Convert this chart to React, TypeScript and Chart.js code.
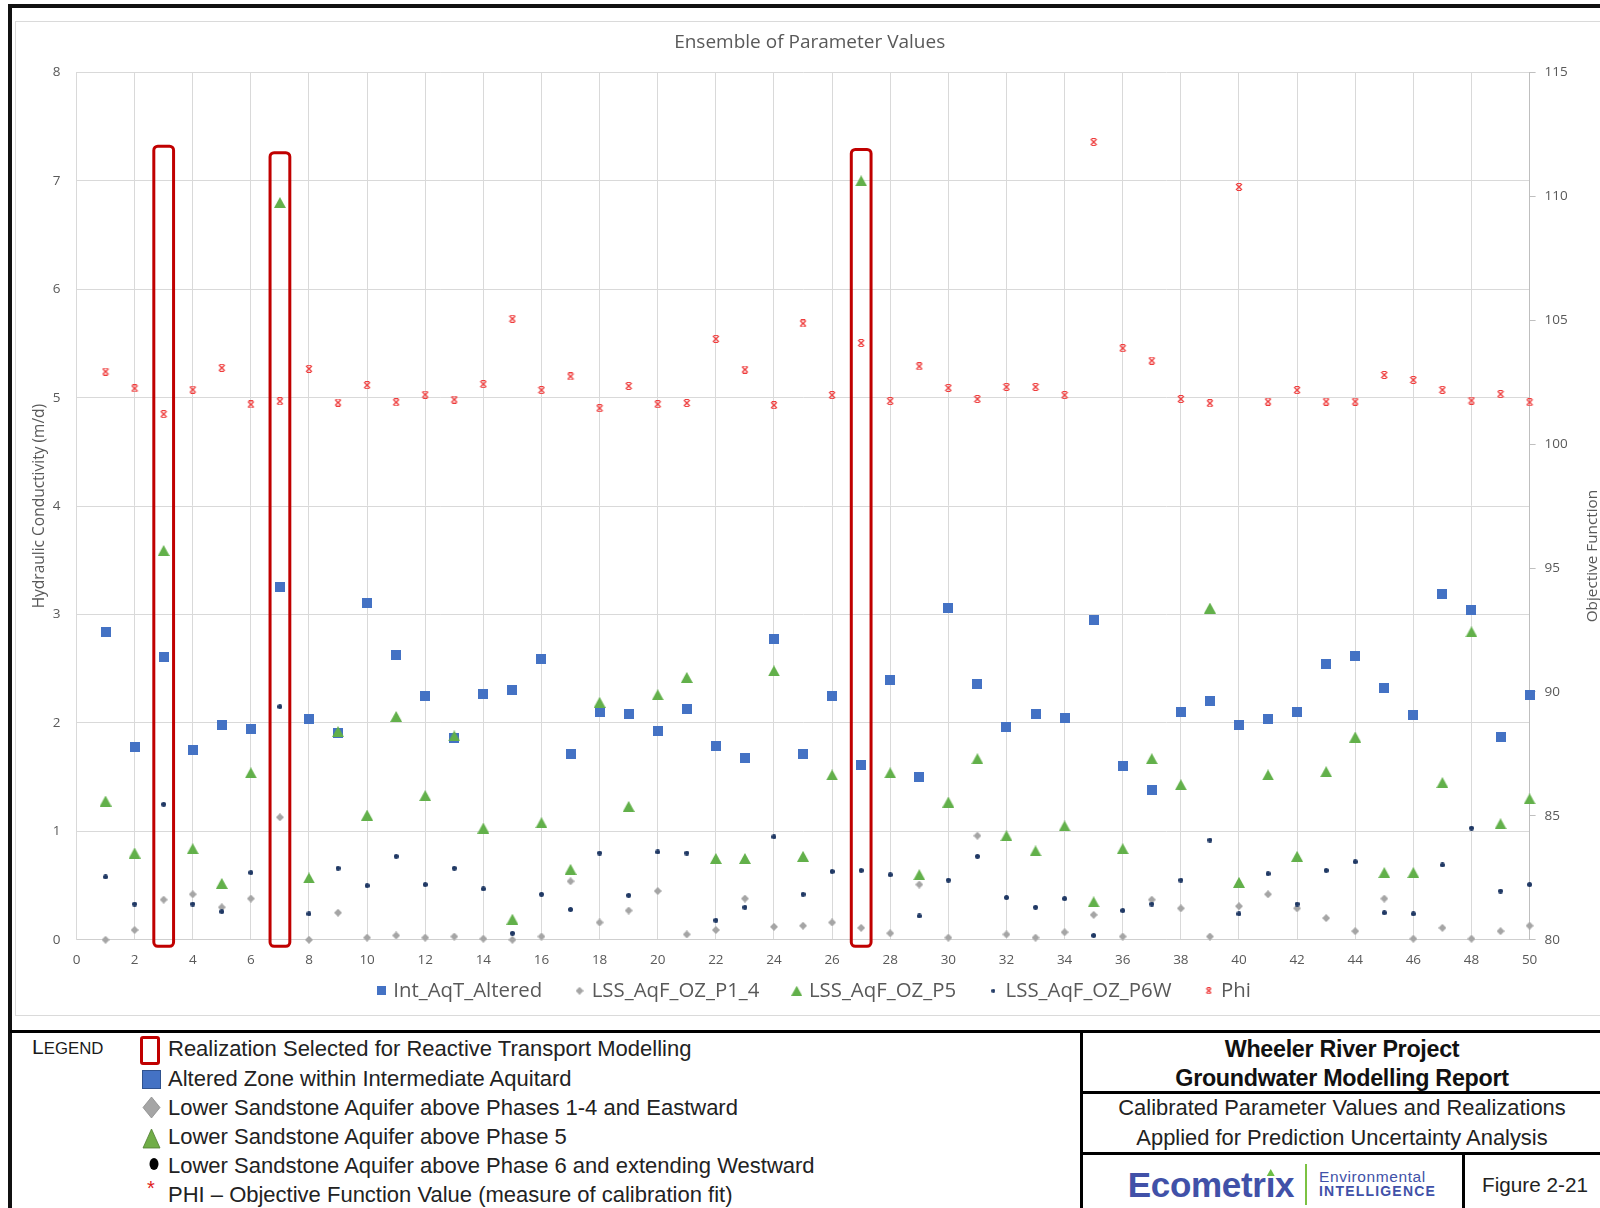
import React, { useEffect, useRef } from "react";
import { Chart, registerables } from "chart.js";

Chart.register(...registerables);

// ---------- data ----------
const realizations = [
  1, 2, 3, 4, 5, 6, 7, 8, 9, 10, 11, 12, 13, 14, 15, 16, 17, 18, 19, 20, 21, 22, 23, 24, 25,
  26, 27, 28, 29, 30, 31, 32, 33, 34, 35, 36, 37, 38, 39, 40, 41, 42, 43, 44, 45, 46, 47, 48, 49, 50,
];

const intAqTAltered = [
  2.84, 1.78, 2.61, 1.75, 1.98, 1.94, 3.25, 2.04, 1.91, 3.11, 2.63, 2.25, 1.86, 2.27, 2.3, 2.59, 1.71,
  2.1, 2.08, 1.93, 2.13, 1.79, 1.68, 2.77, 1.71, 2.25, 1.61, 2.4, 1.5, 3.06, 2.36, 1.96, 2.08, 2.05,
  2.95, 1.6, 1.38, 2.1, 2.2, 1.98, 2.04, 2.1, 2.54, 2.62, 2.32, 2.07, 3.19, 3.04, 1.87, 2.26,
];

const lssAqFOzP14 = [
  0.0, 0.09, 0.37, 0.42, 0.3, 0.38, 1.13, 0.0, 0.25, 0.02, 0.04, 0.02, 0.03, 0.01, 0.0, 0.03, 0.54,
  0.16, 0.27, 0.45, 0.05, 0.09, 0.38, 0.12, 0.13, 0.16, 0.11, 0.06, 0.51, 0.02, 0.96, 0.05, 0.02, 0.07,
  0.23, 0.03, 0.37, 0.29, 0.03, 0.31, 0.42, 0.29, 0.2, 0.08, 0.38, 0.01, 0.11, 0.01, 0.08, 0.13,
];

const lssAqFOzP5 = [
  1.28, 0.8, 3.59, 0.84, 0.52, 1.54, 6.8, 0.57, 1.92, 1.15, 2.06, 1.33, 1.88, 1.03, 0.19, 1.08, 0.65,
  2.19, 1.23, 2.26, 2.42, 0.75, 0.75, 2.48, 0.77, 1.52, 7.0, 1.54, 0.6, 1.27, 1.67, 0.96, 0.82, 1.05,
  0.35, 0.84, 1.67, 1.43, 3.06, 0.53, 1.52, 0.77, 1.55, 1.87, 0.62, 0.62, 1.45, 2.84, 1.07, 1.3,
];

const lssAqFOzP6W = [
  0.58, 0.33, 1.25, 0.33, 0.26, 0.62, 2.15, 0.24, 0.66, 0.5, 0.77, 0.51, 0.66, 0.47, 0.06, 0.42, 0.28,
  0.8, 0.41, 0.81, 0.8, 0.18, 0.3, 0.95, 0.42, 0.63, 0.64, 0.6, 0.22, 0.55, 0.77, 0.39, 0.3, 0.38,
  0.04, 0.27, 0.33, 0.55, 0.92, 0.24, 0.61, 0.33, 0.64, 0.72, 0.25, 0.24, 0.69, 1.03, 0.45, 0.51,
];

const phi = [
  102.93, 102.25, 101.21, 102.2, 103.08, 101.6, 101.73, 103.04, 101.68, 102.38, 101.69, 102.0, 101.8,
  102.42, 105.06, 102.18, 102.73, 101.45, 102.35, 101.61, 101.66, 104.25, 103.01, 101.57, 104.87,
  101.98, 104.08, 101.74, 103.14, 102.27, 101.82, 102.31, 102.31, 101.98, 112.19, 103.87, 103.37,
  101.82, 101.65, 110.38, 101.72, 102.18, 101.72, 101.72, 102.79, 102.59, 102.19, 101.76, 102.02, 101.69,
];

const seriesNames = ["Int_AqT_Altered", "LSS_AqF_OZ_P1_4", "LSS_AqF_OZ_P5", "LSS_AqF_OZ_P6W", "Phi"];

// realizations highlighted with red boxes
const selectedRealizations = [3, 7, 27];
const selectedBoxTops = [7.32, 7.26, 7.29];
const selectedBoxBottom = -0.06;
const selectedBoxHalfWidth = 0.34;

// axes
const leftAxisRange = [0, 8];
const rightAxisRange = [80, 115];
const xAxisRange = [0, 50];

const chartTitle = "Ensemble of Parameter Values";
const leftAxisTitle = "Hydraulic Conductivity (m/d)";
const rightAxisTitle = "Objective Function";

const legendRows = [
  "Realization Selected for Reactive Transport Modelling",
  "Altered Zone within Intermediate Aquitard",
  "Lower Sandstone Aquifer above Phases 1-4 and Eastward",
  "Lower Sandstone Aquifer above Phase 5",
  "Lower Sandstone Aquifer above Phase 6 and extending Westward",
  "PHI \u2013 Objective Function Value (measure of calibration fit)",
];

// ---------- colours ----------
const BLUE = "#4472C4";
const GRAY = "#A5A5A5";
const GREEN = "#62B04A";
const NAVY = "#1F3864";
const RED = "#EE3B3B";
const TXT = "#595959";
const GRID = "#D9D9D9";

function makeIcon(kind: string, w: number, h: number, color: string): HTMLCanvasElement {
  const c = document.createElement("canvas");
  c.width = w;
  c.height = h;
  const g = c.getContext("2d")!;
  g.fillStyle = color;
  g.strokeStyle = color;
  if (kind === "square") {
    g.fillRect(0, 0, w, h);
  } else if (kind === "diamond") {
    g.beginPath();
    g.moveTo(w / 2, 0);
    g.lineTo(w, h / 2);
    g.lineTo(w / 2, h);
    g.lineTo(0, h / 2);
    g.closePath();
    g.fill();
  } else if (kind === "triangle") {
    g.beginPath();
    g.moveTo(w / 2, 0);
    g.lineTo(w, h);
    g.lineTo(0, h);
    g.closePath();
    g.fill();
  } else if (kind === "dot") {
    g.beginPath();
    g.arc(w / 2, h / 2, w / 2, 0, Math.PI * 2);
    g.fill();
  } else if (kind === "phi") {
    g.lineWidth = 1.4;
    g.beginPath();
    g.moveTo(1, 1);
    g.lineTo(w - 1, h - 1);
    g.moveTo(w - 1, 1);
    g.lineTo(1, h - 1);
    g.stroke();
    g.lineWidth = 1;
    g.beginPath();
    g.moveTo(2, 0.5);
    g.lineTo(w - 2, 0.5);
    g.moveTo(2, h - 0.5);
    g.lineTo(w - 2, h - 0.5);
    g.stroke();
  }
  return c;
}

// trailing gap appended to legend entries (spaces) to reproduce the wide item spacing
const LEGEND_GAP = "     ";

function ChartBlock() {
  const ref = useRef<HTMLCanvasElement>(null);

  useEffect(() => {
    const canvas = ref.current;
    if (!canvas) return;

    const dataIcons = [
      makeIcon("square", 10, 10, BLUE),
      makeIcon("diamond", 8, 8, GRAY),
      makeIcon("triangle", 12, 11, GREEN),
      makeIcon("dot", 5, 5, NAVY),
      makeIcon("phi", 8, 8, RED),
    ];
    const legendIcons = [
      makeIcon("square", 9, 9, BLUE),
      makeIcon("diamond", 8, 8, GRAY),
      makeIcon("triangle", 11, 10, GREEN),
      makeIcon("dot", 4, 4, NAVY),
      makeIcon("phi", 7, 7, RED),
    ];
    const seriesValues = [intAqTAltered, lssAqFOzP14, lssAqFOzP5, lssAqFOzP6W, phi];
    const seriesColors = [BLUE, GRAY, GREEN, NAVY, RED];

    const datasets = seriesValues.map((vals, i) => ({
      type: "scatter" as const,
      label: seriesNames[i],
      data: realizations.map((r, k) => ({ x: r, y: vals[k] })),
      yAxisID: i === 4 ? "y1" : "y",
      pointStyle: dataIcons[i],
      pointRadius: 5,
      pointHoverRadius: 5,
      backgroundColor: seriesColors[i],
      borderColor: seriesColors[i],
      showLine: false,
      clip: false as any,
      order: 4 - i,
    }));

    const boxPlugin = {
      id: "selectionBoxes",
      afterDatasetsDraw(chart: any) {
        const { ctx, scales } = chart;
        const x = scales.x;
        const y = scales.y;
        ctx.save();
        ctx.strokeStyle = "#C00000";
        ctx.lineWidth = 3;
        selectedRealizations.forEach((r, i) => {
          const left = x.getPixelForValue(r - selectedBoxHalfWidth);
          const right = x.getPixelForValue(r + selectedBoxHalfWidth);
          const top = y.getPixelForValue(selectedBoxTops[i]);
          const bottom = y.getPixelForValue(selectedBoxBottom);
          ctx.beginPath();
          if ((ctx as any).roundRect) (ctx as any).roundRect(left, top, right - left, bottom - top, 4);
          else ctx.rect(left, top, right - left, bottom - top);
          ctx.stroke();
        });
        ctx.restore();
      },
    };

    const rightTitlePlugin = {
      id: "rightTitle",
      afterLayout(chart: any) {
        // the chart title sits slightly left of the canvas centre in the original
        const t = chart.titleBlock;
        if (t) {
          t.left -= 5.3;
          t.right -= 5.3;
        }
      },
      afterDraw(chart: any) {
        const { ctx, chartArea } = chart;
        ctx.save();
        ctx.fillStyle = TXT;
        ctx.font = '15.3px "Open Sans"';
        ctx.textAlign = "center";
        ctx.textBaseline = "middle";
        ctx.translate(chartArea.right + 63.4, (chartArea.top + chartArea.bottom) / 2 + 50);
        ctx.rotate(-Math.PI / 2);
        ctx.fillText(rightAxisTitle, 0, 0);
        ctx.restore();
      },
    };

    const chart = new Chart(canvas, {
      type: "scatter",
      data: { datasets: datasets as any },
      options: {
        animation: false,
        responsive: false,
        devicePixelRatio: 1,
        layout: { padding: { left: 0, right: 0, top: 0, bottom: 5 } },
        plugins: {
          tooltip: { enabled: false },
          title: {
            display: true,
            text: chartTitle,
            color: TXT,
            font: { family: "Open Sans", size: 19, weight: "normal" },
            padding: { top: 10.6, bottom: 18 },
          },
          legend: {
            display: true,
            position: "bottom",
            labels: {
              usePointStyle: true,
              boxWidth: 4,
              boxHeight: 4,
              padding: 8.8,
              color: TXT,
              font: { family: "Open Sans", size: 20.4 },
              generateLabels: (ch: any) => {
                const items = (Chart.defaults.plugins.legend.labels as any).generateLabels(ch);
                return items
                  .sort((a: any, b: any) => a.datasetIndex - b.datasetIndex)
                  .map((it: any, k: number, arr: any[]) => ({
                    ...it,
                    text: k < arr.length - 1 ? it.text + LEGEND_GAP : it.text,
                    pointStyle: legendIcons[it.datasetIndex],
                    fontColor: TXT,
                  }));
              },
            },
          },
        },
        scales: {
          x: {
            type: "linear",
            position: "bottom",
            min: xAxisRange[0],
            max: xAxisRange[1],
            ticks: {
              stepSize: 2,
              color: TXT,
              font: { family: "Open Sans", size: 13.5 },
              padding: 12,
              maxRotation: 0,
              autoSkip: false,
            },
            grid: { color: GRID, drawTicks: false },
            border: { color: "#CFCFCF" },
            afterFit: (s: any) => {
              s.height = 32;
            },
          },
          y: {
            type: "linear",
            position: "left",
            min: leftAxisRange[0],
            max: leftAxisRange[1],
            ticks: {
              stepSize: 1,
              color: TXT,
              font: { family: "Open Sans", size: 13.5 },
              padding: 16,
            },
            grid: { color: GRID, drawTicks: false },
            border: { color: GRID },
            title: {
              display: true,
              text: leftAxisTitle,
              color: TXT,
              font: { family: "Open Sans", size: 15.5 },
              padding: { top: 15.7, bottom: 0 },
            },
            afterFit: (s: any) => {
              s.width = 61.5;
            },
          },
          y1: {
            type: "linear",
            position: "right",
            min: rightAxisRange[0],
            max: rightAxisRange[1],
            ticks: {
              stepSize: 5,
              color: TXT,
              font: { family: "Open Sans", size: 13.5 },
              padding: 9,
            },
            grid: { drawOnChartArea: false, drawTicks: true, tickLength: 6, color: "#BFBFBF" },
            border: { color: "#BFBFBF" },
            afterFit: (s: any) => {
              s.width = 85.4;
            },
          },
        },
      },
      plugins: [boxPlugin, rightTitlePlugin],
    } as any);

    return () => chart.destroy();
  }, []);

  return (
    <canvas
      ref={ref}
      width={1600}
      height={995}
      style={{ position: "absolute", left: 15, top: 21, width: 1600, height: 995, display: "block" }}
    />
  );
}

function Line(props: { left: number; top: number; width: number; height: number; color?: string }) {
  return (
    <div
      style={{
        position: "absolute",
        left: props.left,
        top: props.top,
        width: props.width,
        height: props.height,
        background: props.color || "#000",
      }}
    />
  );
}

function TextAt(props: {
  cx?: number;
  left?: number;
  cy: number;
  size: number;
  bold?: boolean;
  color?: string;
  children: React.ReactNode;
  spacing?: number;
  family?: string;
}) {
  const lh = Math.round(props.size * 1.3);
  const style: React.CSSProperties = {
    position: "absolute",
    top: props.cy - lh / 2,
    lineHeight: lh + "px",
    height: lh,
    fontSize: props.size,
    fontWeight: props.bold ? 700 : 400,
    color: props.color || "#1a1a1a",
    whiteSpace: "nowrap",
    letterSpacing: props.spacing ? props.spacing : undefined,
    fontFamily: props.family,
  };
  if (props.cx !== undefined) {
    style.left = props.cx;
    style.transform = "translateX(-50%)";
  } else {
    style.left = props.left;
  }
  return <div style={style}>{props.children}</div>;
}

export default function App() {
  const rowCenters = [1048, 1078, 1107, 1136.5, 1165, 1194];
  return (
    <div
      style={{
        position: "fixed",
        left: 0,
        top: 0,
        width: 1600,
        height: 1208,
        overflow: "hidden",
        background: "#fff",
        fontFamily: '"Liberation Sans", Arial, sans-serif',
      }}
    >
      {/* chart area border */}
      <div
        style={{
          position: "absolute",
          left: 15,
          top: 21,
          width: 1620,
          height: 995,
          border: "1px solid #DADADA",
          boxSizing: "border-box",
        }}
      />
      <ChartBlock />

      {/* outer frame */}
      <Line left={8} top={4} width={1600} height={4} color="#111" />
      <Line left={8} top={4} width={4} height={1210} color="#111" />
      <Line left={10} top={1030} width={1600} height={3} />

      {/* title block frame */}
      <Line left={1080} top={1030} width={3} height={180} />
      <Line left={1080} top={1091} width={530} height={3} />
      <Line left={1080} top={1152} width={530} height={3} />
      <Line left={1462} top={1152} width={3} height={60} />

      {/* legend block */}
      <div
        style={{
          position: "absolute",
          left: 32,
          top: 1034,
          lineHeight: "26px",
          color: "#1a1a1a",
          whiteSpace: "nowrap",
        }}
      >
        <span style={{ fontSize: 21 }}>L</span>
        <span style={{ fontSize: 16.8 }}>EGEND</span>
      </div>

      <svg
        width={60}
        height={180}
        style={{ position: "absolute", left: 120, top: 1030 }}
        viewBox="0 0 60 180"
      >
        <rect x={21.5} y={7.5} width={17} height={26} rx={1.5} fill="none" stroke="#C00000" strokeWidth={3} />
        <rect x={22.5} y={40.5} width={18} height={18} fill={BLUE} stroke="#2F528F" strokeWidth={1} />
        <polygon points="31.5,67 40,77.5 31.5,88 23,77.5" fill={GRAY} stroke="#8C8C8C" strokeWidth={0.8} />
        <polygon points="31.5,99 40,118 23,118" fill="#70AD47" stroke="#507E32" strokeWidth={0.8} />
        <ellipse cx={34} cy={134} rx={4.5} ry={6} fill="#000" />
      </svg>
      <div
        style={{
          position: "absolute",
          left: 147,
          top: 1178,
          fontSize: 20,
          lineHeight: "20px",
          color: "#E02020",
        }}
      >
        *
      </div>

      {legendRows.map((t, i) => (
        <TextAt key={i} left={168} cy={rowCenters[i]} size={22} color="#222">
          {t}
        </TextAt>
      ))}

      {/* title block texts */}
      <TextAt cx={1342} cy={1049} size={23.3} bold color="#111" spacing={-0.3}>
        Wheeler River Project
      </TextAt>
      <TextAt cx={1342} cy={1077.5} size={23.3} bold color="#111" spacing={-0.3}>
        Groundwater Modelling Report
      </TextAt>
      <TextAt cx={1342} cy={1108} size={21.9} color="#222">
        Calibrated Parameter Values and Realizations
      </TextAt>
      <TextAt cx={1342} cy={1138} size={21.9} color="#222">
        Applied for Prediction Uncertainty Analysis
      </TextAt>

      {/* logo */}
      <TextAt cx={1211} cy={1185} size={35} bold color="#4151A8" spacing={-0.3}>
        Ecometr
        <span style={{ position: "relative" }}>
          ı
          <span
            style={{
              position: "absolute",
              left: "50%",
              top: 4,
              marginLeft: -4,
              width: 0,
              height: 0,
              borderLeft: "4px solid transparent",
              borderRight: "4px solid transparent",
              borderBottom: "7px solid #6DBE45",
            }}
          />
        </span>
        x
      </TextAt>
      <Line left={1305} top={1164} width={2} height={41} color="#7CC242" />
      <TextAt left={1319} cy={1177} size={15.5} color="#4151A8" spacing={0.6}>
        Environmental
      </TextAt>
      <TextAt left={1319} cy={1191} size={14} bold color="#4151A8" spacing={1.2}>
        INTELLIGENCE
      </TextAt>

      <TextAt cx={1535} cy={1184} size={20.7} color="#222">
        Figure 2-21
      </TextAt>
    </div>
  );
}
